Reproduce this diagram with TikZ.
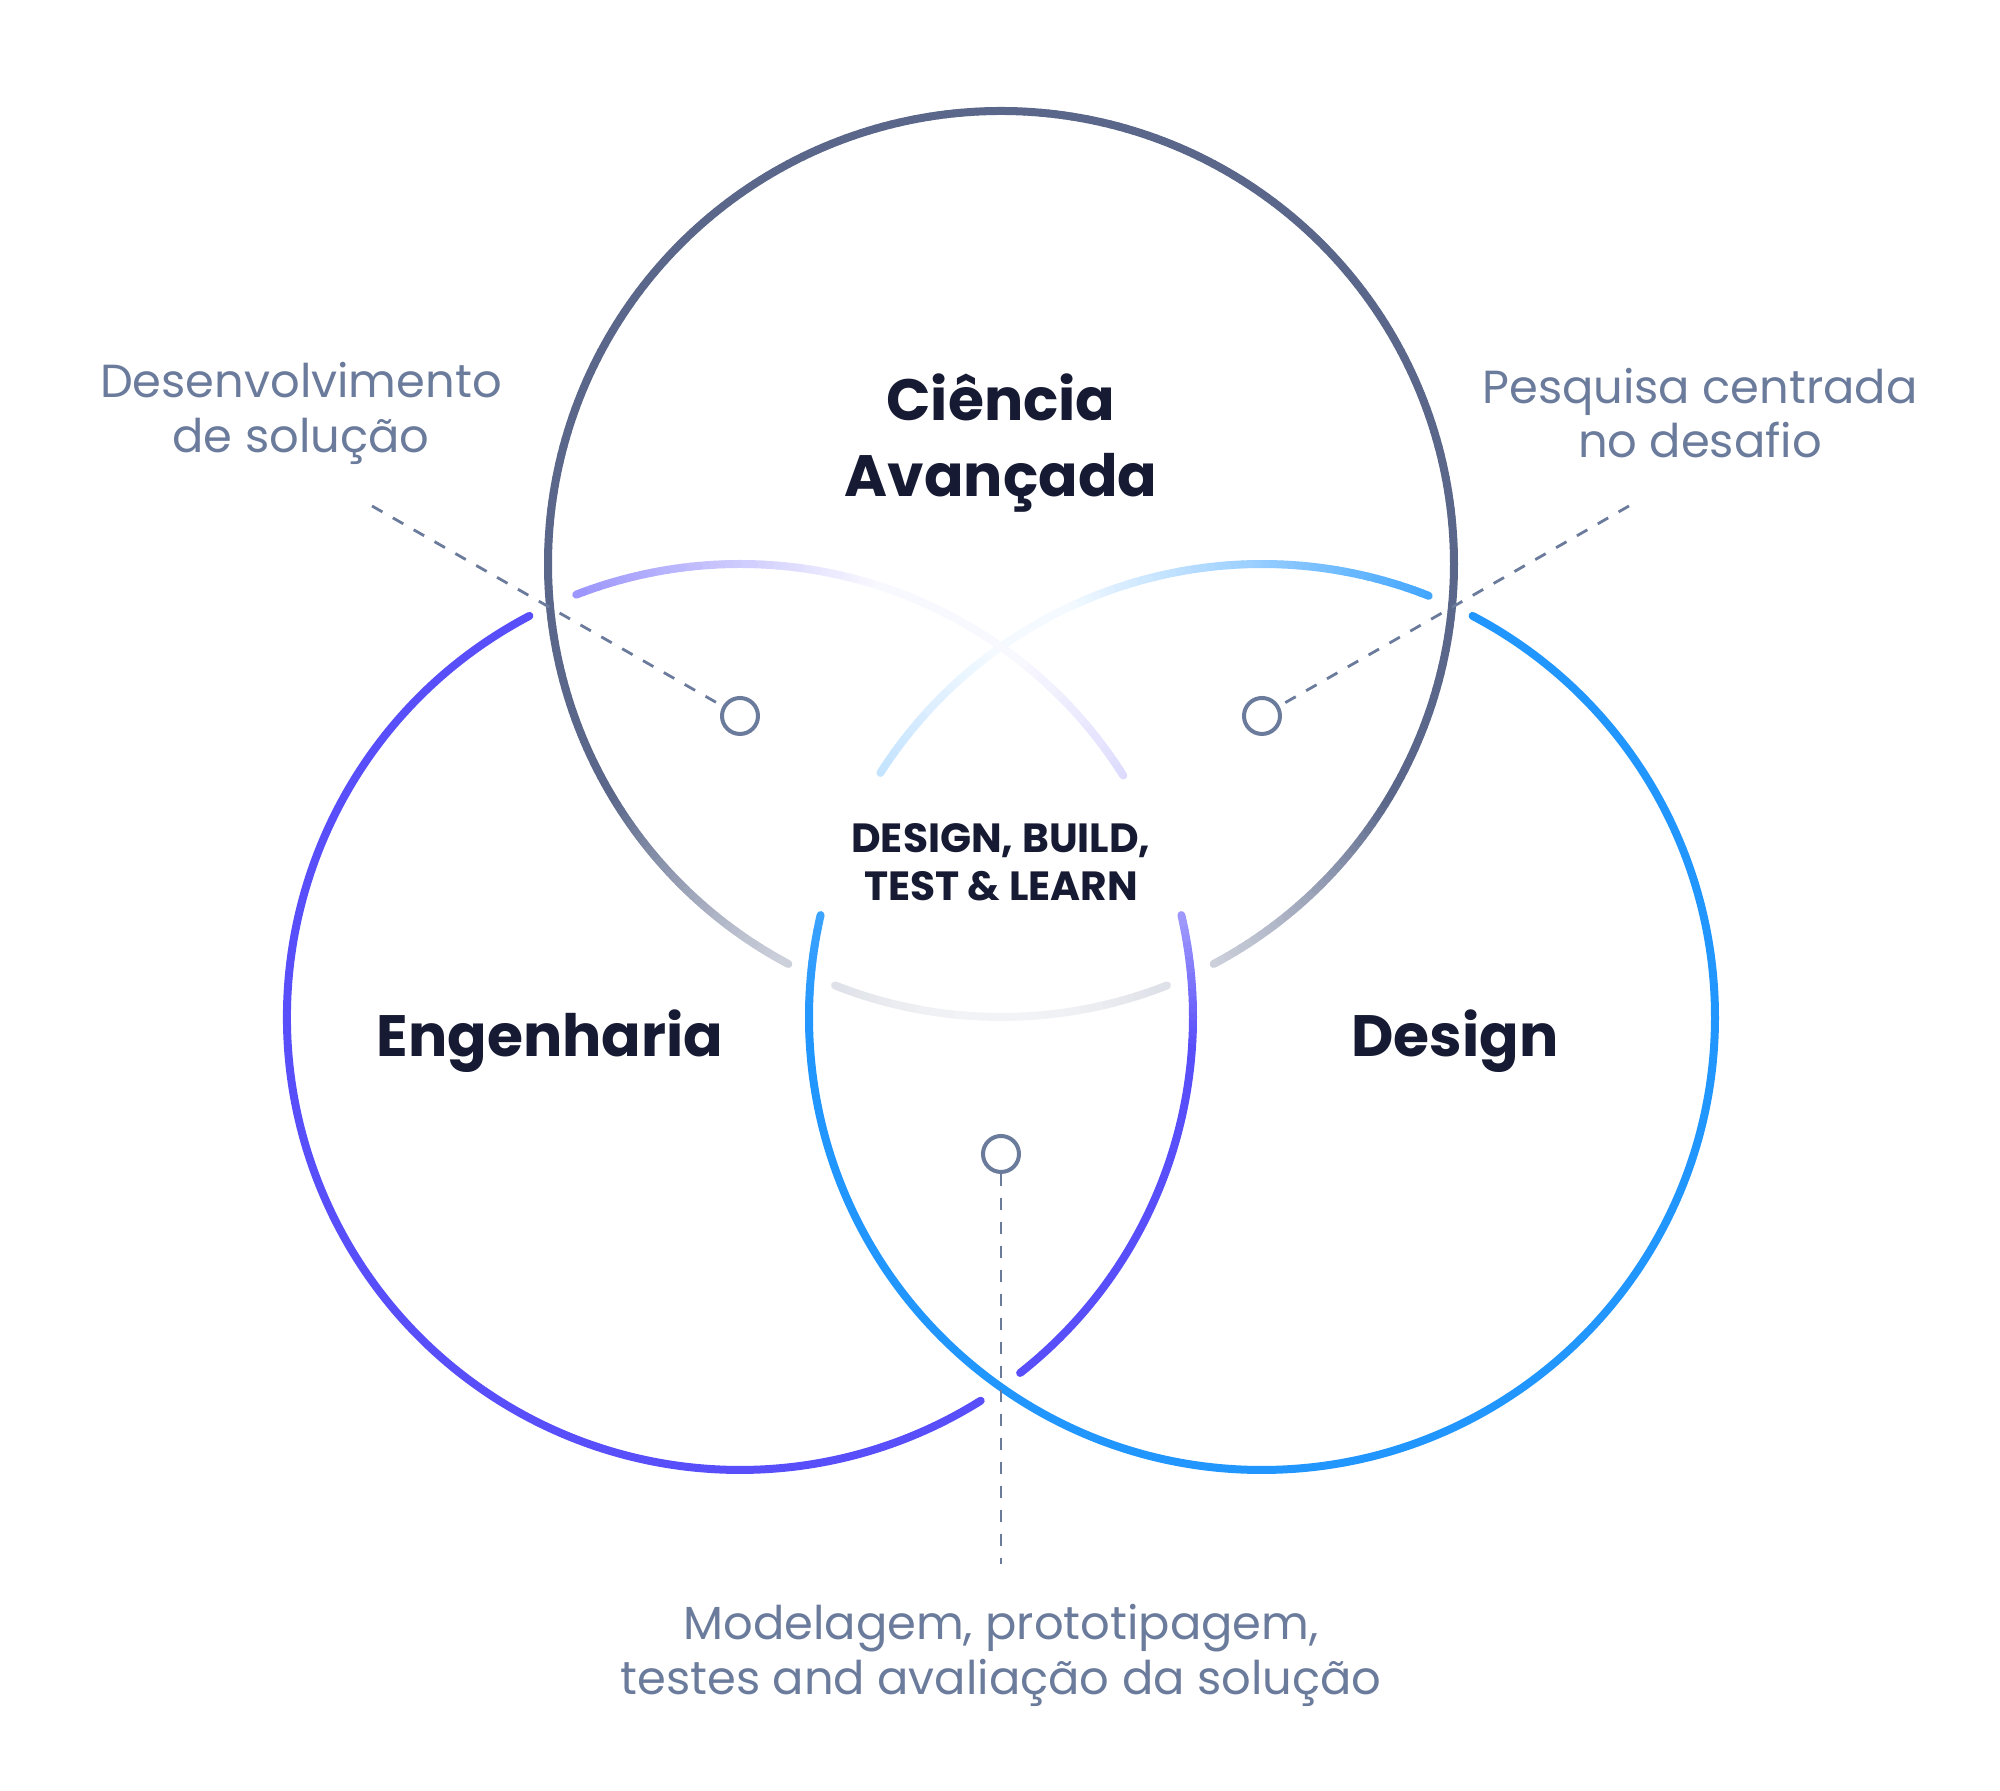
\documentclass[tikz,border=0pt]{standalone}
\usepackage{fontspec}
\setmainfont{Poppins}
\definecolor{scicol}{RGB}{90,103,138}
\definecolor{engcol}{RGB}{88,78,250}
\definecolor{descol}{RGB}{33,150,255}
\definecolor{notecol}{RGB}{107,123,156}
\definecolor{ink}{RGB}{22,26,50}

\begin{document}
\begin{tikzpicture}[x=0.1mm,y=0.1mm,
    ring/.style={line width=0.8mm,line cap=round},
    lead/.style={notecol,line width=0.28mm,dash pattern=on 1.2mm off 1.2mm},
    spot/.style={circle,draw=notecol,line width=0.4mm,fill=white,minimum size=3.6mm,inner sep=0pt},
    big/.style={text=ink,font=\bfseries\fontsize{16.6}{21.6}\selectfont,align=center,inner sep=0pt},
    core/.style={text=ink,font=\bfseries\fontsize{11.6}{13.6}\selectfont,align=center,inner sep=0pt},
    note/.style={text=notecol,font=\fontsize{13.2}{15.6}\selectfont,align=center,inner sep=0pt}]
  \useasboundingbox (0,0) rectangle (2000,1791);
  \def\ringr{453}

  \coordinate (S) at (1001,1227);
  \coordinate (E) at (740,774);
  \coordinate (D) at (1262,774);

  % faint upper arcs of the two lower circles
  \foreach \a in {68.4,69.4,...,146.8} {
    \pgfmathtruncatemacro\pct{max(5,85-(\a-68.4)*1.7,28-(147.8-\a)*1.06)}
    \draw[ring,descol!\pct!white] (D) ++(\a:\ringr) arc[start angle=\a,end angle=\a+1,radius=\ringr];
  }
  \foreach \a in {32.2,33.2,...,110.4} {
    \pgfmathtruncatemacro\pct{max(4,61-(111.4-\a)*1.46,20-(\a-32.2)*0.8)}
    \draw[ring,engcol!\pct!white] (E) ++(\a:\ringr) arc[start angle=\a,end angle=\a+1,radius=\ringr];
  }

  % Ciencia: fades towards the bottom
  \foreach \a in {298,...,601} {
    \pgfmathtruncatemacro\pct{min(100,200+192*sin(\a+0.5))}
    \draw[ring,scicol!\pct!white] (S) ++(\a:\ringr) arc[start angle=\a,end angle=\a+1,radius=\ringr];
  }
  \foreach \a in {248.5,249.5,...,290.5} {
    \pgfmathtruncatemacro\pct{max(8,min(100,200+192*sin(\a+0.5)))}
    \draw[ring,scicol!\pct!white] (S) ++(\a:\ringr) arc[start angle=\a,end angle=\a+1,radius=\ringr];
  }

  % Engenharia
  \draw[ring,engcol] (E) ++(117.7:\ringr) arc[start angle=117.7,end angle=302.1,radius=\ringr];
  \draw[ring,engcol] (E) ++(308.2:\ringr) arc[start angle=308.2,end angle=357,radius=\ringr];
  \foreach \a in {357,...,372} {
    \pgfmathtruncatemacro\pct{100-(\a+0.5-357)*43/16}
    \draw[ring,engcol!\pct!white] (E) ++(\a:\ringr) arc[start angle=\a,end angle=\a+1,radius=\ringr];
  }

  % Design
  \draw[ring,descol] (D) ++(182:\ringr) arc[start angle=182,end angle=422.3,radius=\ringr];
  \foreach \a in {167,...,181} {
    \pgfmathtruncatemacro\pct{88+(\a+0.5-167)*0.8}
    \draw[ring,descol!\pct!white] (D) ++(\a:\ringr) arc[start angle=\a,end angle=\a+1,radius=\ringr];
  }

  \node[big] (sci) at (1001,1348) {Ciência\\Avançada};
  \node[big,anchor=base] (eng) at (550,734) {Engenharia};
  \node[big,anchor=base] (des) at (1455,734) {Design};
  \node[core] (dbtl) at (1001,929) {DESIGN, BUILD,\\TEST \& LEARN};

  \node[note] (devnote) at (301,1378) {Desenvolvimento\\de solução};
  \node[note] (resnote) at (1700,1378) {Pesquisa centrada\\no desafio};
  \node[note] (protonote) at (1001,136) {Modelagem, prototipagem,\\testes and avaliação da solução};

  \node[spot] (devdot) at (740,1075) {};
  \node[spot] (resdot) at (1262,1075) {};
  \node[spot] (protodot) at (1001,637) {};

  \coordinate (devend) at (372,1285);
  \coordinate (resend) at (1629,1285);
  \coordinate (protoend) at (1001,227);
  \draw[lead] (devend) -- (devdot);
  \draw[lead] (resend) -- (resdot);
  \draw[lead] (protodot) -- (protoend);
\end{tikzpicture}
\end{document}
